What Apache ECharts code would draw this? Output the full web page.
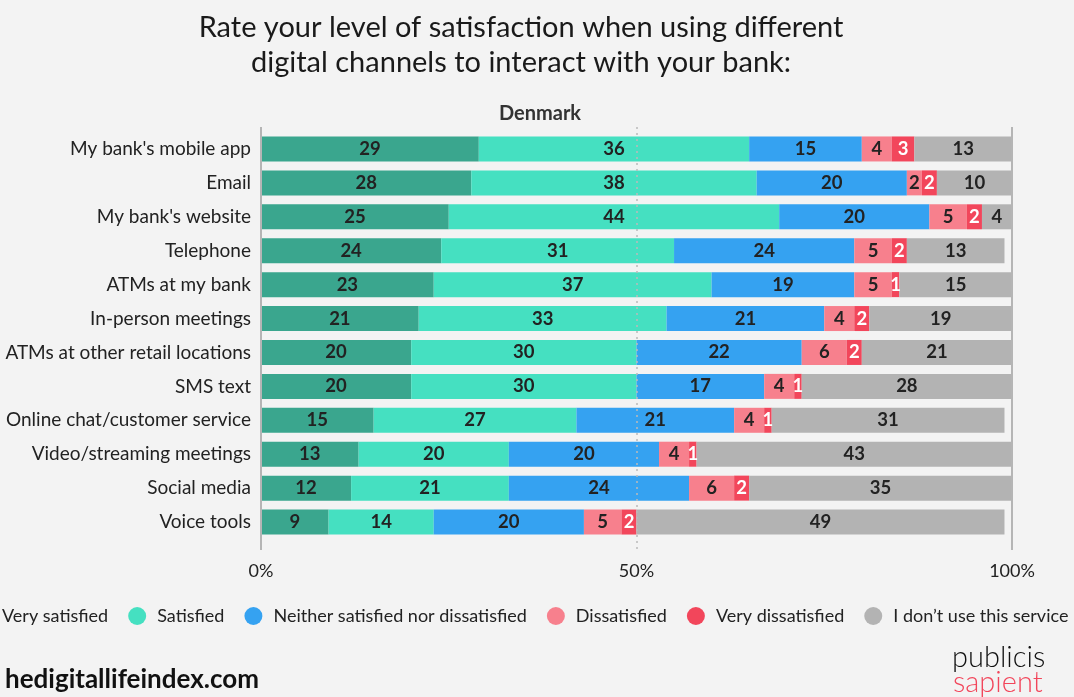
<!DOCTYPE html>
<html><head><meta charset="utf-8">
<script src="https://cdn.jsdelivr.net/npm/echarts@6/dist/echarts.min.js"></script>
<style>html,body{margin:0;padding:0;background:#f3f3f3;}#c{width:1074px;height:697px;}</style>
</head><body><div id="c"></div>
<script>
const categories = ["My bank's mobile app","Email","My bank's website","Telephone","ATMs at my bank","In-person meetings","ATMs at other retail locations","SMS text","Online chat/customer service","Video/streaming meetings","Social media","Voice tools"];
const seriesNames = ["Very satisfied","Satisfied","Neither satisfied nor dissatisfied","Dissatisfied","Very dissatisfied","I don\u2019t use this service"];
const verySatisfied = [29,28,25,24,23,21,20,20,15,13,12,9];
const satisfied = [36,38,44,31,37,33,30,30,27,20,21,14];
const neither = [15,20,20,24,19,21,22,17,21,20,24,20];
const dissatisfied = [4,2,5,5,5,4,6,4,4,4,6,5];
const veryDissatisfied = [3,2,2,2,1,2,2,1,1,1,2,2];
const dontUse = [13,10,4,13,15,19,21,28,31,43,35,49];
const xTicks = [0,50,100];

const colors = ['#3aa68e','#45e0c1','#35a2f1','#f7808d','#f2465b','#b3b3b3'];
const FONT = 'Lato, "Open Sans", sans-serif';
const allData = [verySatisfied,satisfied,neither,dissatisfied,veryDissatisfied,dontUse];

const barSeries = allData.map((d,i)=>({
  name: seriesNames[i], type:'bar', stack:'t', data:d, barWidth:25,
  xAxisIndex:0, yAxisIndex:0, z:3,
  itemStyle:{color:colors[i]},
  label:{show:true, position:'inside', fontFamily:FONT, fontSize:18.5, fontWeight:'bold',
    color: i===4 ? '#ffffff' : '#222222'}
}));

const chart = echarts.init(document.getElementById('c'), null, {renderer:'canvas'});
chart.setOption({
  backgroundColor:'#f3f3f3',
  animation:false,
  color:colors,
  title:[
    {text:'Rate your level of satisfaction when using different\ndigital channels to interact with your bank:', left:516, textAlign:'center', top:5,
     textStyle:{fontFamily:FONT, fontSize:29, fontWeight:'normal', color:'#1a1a1a', lineHeight:35}},
    {text:'Denmark', left:535, textAlign:'center', top:99, textStyle:{fontFamily:FONT, fontSize:20, fontWeight:'bold', color:'#333'}},
    {text:'hedigitallifeindex.com', left:0, top:662, textStyle:{fontFamily:FONT, fontSize:26, fontWeight:'bold', color:'#111'}},
    {text:'publicis', left:947, top:638, textStyle:{fontFamily:FONT, fontSize:29, fontWeight:300, color:'#111'}},
    {text:'sapient', left:948, top:663, textStyle:{fontFamily:FONT, fontSize:29, fontWeight:300, color:'#f2465b'}}
  ],
  legend:{data:seriesNames, left:-32, top:602, width:1150, icon:'circle', itemWidth:18, itemHeight:18, itemGap:20,
    textStyle:{fontFamily:FONT, fontSize:18, color:'#222', padding:[0,0,0,6]}},
  grid:[
    {left:261, right:62, top:132, bottom:158},
    {left:261, right:62, top:127, bottom:147}
  ],
  xAxis:[
    {type:'value', gridIndex:0, min:0, max:100, interval:50,
     axisLine:{show:false}, axisTick:{show:false}, splitLine:{show:false},
     axisLabel:{show:false}},
    {type:'value', gridIndex:1, min:0, max:100, interval:50,
     axisLine:{show:false}, axisTick:{show:false}, splitLine:{show:false},
     axisLabel:{show:true, margin:12, formatter:'{value}%', fontFamily:FONT, fontSize:18, color:'#222'}}
  ],
  yAxis:[
    {type:'category', gridIndex:0, data:categories, inverse:true,
     axisLine:{show:false}, axisTick:{show:false},
     axisLabel:{fontFamily:FONT, fontSize:19, color:'#222', margin:10}},
    {type:'category', gridIndex:1, data:categories, inverse:true, show:false}
  ],
  series:[
    {type:'line', xAxisIndex:1, yAxisIndex:1, data:[], z:1, silent:true,
     markLine:{symbol:'none', silent:true, label:{show:false},
       data:[
         {xAxis:xTicks[0], lineStyle:{color:'#b5b5b5', width:2, type:'solid'}},
         {xAxis:xTicks[1], lineStyle:{color:'#bbbbbb', width:1.5, type:[2,4]}},
         {xAxis:xTicks[2], lineStyle:{color:'#b5b5b5', width:2, type:'solid'}}
       ]}}
  ].concat(barSeries)
});
</script></body></html>
